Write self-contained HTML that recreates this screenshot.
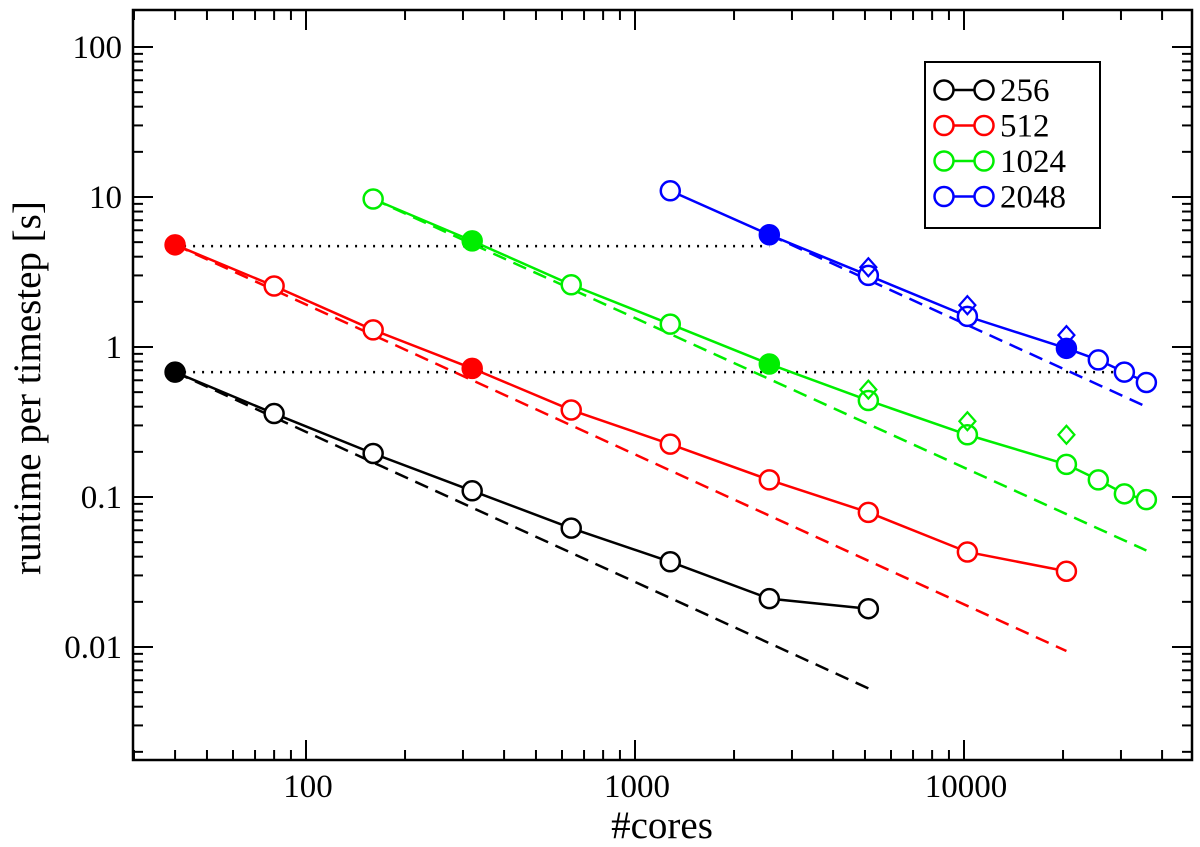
<!DOCTYPE html>
<html><head><meta charset="utf-8"><style>
body{margin:0;background:#fff}
svg text{font-family:"Liberation Serif",serif}
</style></head><body>
<svg id="chart" width="1200" height="842" xmlns="http://www.w3.org/2000/svg">
<g id="marks"></g><g id="axes"></g>
</svg>
<script>
const s256x=[40,80,160,320,640,1280,2560,5120];
const s256y=[0.68,0.36,0.195,0.11,0.062,0.037,0.021,0.018];
const s512x=[40,80,160,320,640,1280,2560,5120,10240,20480];
const s512y=[4.8,2.55,1.3,0.72,0.38,0.225,0.13,0.079,0.043,0.032];
const s1024x=[160,320,640,1280,2560,5120,10240,20480,25600,30720,35840];
const s1024y=[9.7,5.1,2.6,1.42,0.77,0.44,0.26,0.165,0.13,0.105,0.096];
const s2048x=[1280,2560,5120,10240,20480,25600,30720,35840];
const s2048y=[11,5.6,3.0,1.6,0.98,0.82,0.68,0.58];
const filled256=[40];const filled512=[40,320];const filled1024=[320,2560];const filled2048=[2560,20480];
const diam1024x=[5120,10240,20480];const diam1024y=[0.52,0.32,0.26];
const diam2048x=[5120,10240,20480];const diam2048y=[3.4,1.9,1.2];
const dash256=[[40,0.68],[5120,0.0053]];
const dash512=[[40,4.8],[20480,0.0094]];
const dash1024=[[160,9.7],[35840,0.044]];
const dash2048=[[2560,5.6],[35840,0.4]];
const dotHi=[[40,4.7],[2560,4.7]];
const dotLo=[[40,0.68],[30720,0.68]];
const legendLabels=["256","512","1024","2048"];
const xTicks=[100,1000,10000];const xTickLabels=["100","1000","10000"];
const yTicks=[100,10,1,0.1,0.01];const yTickLabels=["100","10","1","0.1","0.01"];

const L=133,R=1192,T=10,B=760;
const X=v=>306+(Math.log10(v)-2)*329;
const Y=v=>347-Math.log10(v)*150;
const NS="http://www.w3.org/2000/svg";
const marks=document.getElementById('marks'),axes=document.getElementById('axes');
function mk(tag,attrs,parent){const e=document.createElementNS(NS,tag);for(const k in attrs)e.setAttribute(k,attrs[k]);parent.appendChild(e);return e;}

const series=[[s256x,s256y,"#000",filled256,dash256,null,null,"256"],
[s512x,s512y,"#f00",filled512,dash512,null,null,"512"],
[s1024x,s1024y,"#0e0",filled1024,dash1024,diam1024x,diam1024y,"1024"],
[s2048x,s2048y,"#00f",filled2048,dash2048,diam2048x,diam2048y,"2048"]];
[dotHi,dotLo].forEach((d,i)=>{
 const l=mk('line',{x1:X(d[0][0]),y1:Y(d[0][1]),x2:X(d[1][0]),y2:Y(d[1][1]),stroke:"#000","stroke-width":2.5,"stroke-dasharray":"2,7"},marks);
 
 
});
series.forEach(s=>{
 const [xs,ys,c,fl,dh,dx,dy,name]=s;
 const dl=mk('line',{x1:X(dh[0][0]),y1:Y(dh[0][1]),x2:X(dh[1][0]),y2:Y(dh[1][1]),stroke:c,"stroke-width":2.5,"stroke-dasharray":"14,8"},marks);
 
 
 const p=mk('polyline',{points:xs.map((x,i)=>X(x)+","+Y(ys[i])).join(" "),fill:"none",stroke:c,"stroke-width":2.5},marks);
 
 
 xs.forEach((x,i)=>{
  const ci=mk('circle',{cx:X(x),cy:Y(ys[i]),r:9.5,fill:fl.includes(x)?c:"#fff",stroke:c,"stroke-width":2.5},marks);
  
  
 });
 if(dx)dx.forEach((x,i)=>{
  const cx=X(x),cy=Y(dy[i]);
  const d=mk('polygon',{points:`${cx},${cy-9} ${cx+8},${cy} ${cx},${cy+9} ${cx-8},${cy}`,fill:"none",stroke:c,"stroke-width":2.2},marks);
  
  
 });
});
const fr=mk('rect',{x:L,y:T,width:R-L,height:B-T,fill:"none",stroke:"#000","stroke-width":2.5},axes);


for(let e=1;e<=4;e++)for(let m=1;m<10;m++){const v=m*Math.pow(10,e);const x=X(v);if(x<=L||x>=R)continue;const len=m==1?20:10;
 mk('line',{x1:x,y1:B,x2:x,y2:B-len,stroke:"#000","stroke-width":2},axes);mk('line',{x1:x,y1:T,x2:x,y2:T+len,stroke:"#000","stroke-width":2},axes);}
for(let e=-3;e<=2;e++)for(let m=1;m<10;m++){const v=m*Math.pow(10,e);const y=Y(v);if(y<=T||y>=B)continue;const len=m==1?20:10;
 mk('line',{x1:L,y1:y,x2:L+len,y2:y,stroke:"#000","stroke-width":2},axes);mk('line',{x1:R,y1:y,x2:R-len,y2:y,stroke:"#000","stroke-width":2},axes);}
xTicks.forEach((v,i)=>{const t=mk('text',{x:X(v)+2,y:797,"font-size":33,"text-anchor":"middle"},axes);t.textContent=xTickLabels[i];
 });
yTicks.forEach((v,i)=>{const t=mk('text',{x:122,y:Y(v)+11,"font-size":33,"text-anchor":"end"},axes);t.textContent=yTickLabels[i];
 });
const xt=mk('text',{x:662,y:838,"font-size":39,"text-anchor":"middle"},axes);xt.textContent="#cores";

const yt=mk('text',{x:0,y:0,"font-size":39,"text-anchor":"middle",transform:"translate(40,388) rotate(-90)"},axes);yt.textContent="runtime per timestep [s]";

const lg=mk('g',{},axes);


mk('rect',{x:925,y:62,width:175,height:166,fill:"#fff",stroke:"#000","stroke-width":2},lg);
series.forEach((s,i)=>{const y=90+i*35.5,c=s[2];
 const g=mk('g',{},lg);
 
 
 mk('line',{x1:944,y1:y,x2:984,y2:y,stroke:c,"stroke-width":2.5},g);
 mk('circle',{cx:944,cy:y,r:9.5,fill:"#fff",stroke:c,"stroke-width":2.5},g);
 mk('circle',{cx:984,cy:y,r:9.5,fill:"#fff",stroke:c,"stroke-width":2.5},g);
 const t=mk('text',{x:1000,y:y+11,"font-size":33},g);t.textContent=legendLabels[i];});
</script>
</body></html>
